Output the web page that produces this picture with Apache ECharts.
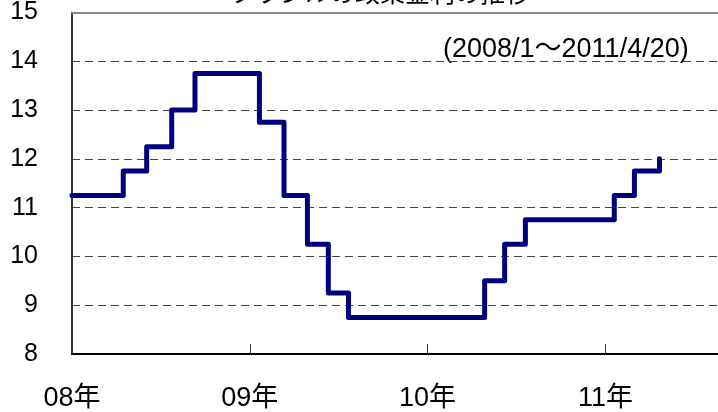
<!DOCTYPE html>
<html>
<head>
<meta charset="utf-8">
<script src="https://cdn.jsdelivr.net/npm/echarts@6/dist/echarts.min.js"></script>
<style>
  html, body { margin: 0; padding: 0; background: #fff; }
  #chart { width: 718px; height: 412px; }
</style>
</head>
<body>
<div id="chart"></div>
<script>
// months since 2008/1 where the rate changes, and the new rate (%)
var months = [0, 3.46, 5.04, 6.73, 8.3, 12.65, 14.31, 15.89, 17.3, 18.66, 27.85, 29.2, 30.6, 36.6, 37.96, 39.65]
var rates = [11.25, 11.75, 12.25, 13.0, 13.75, 12.75, 11.25, 10.25, 9.25, 8.75, 9.5, 10.25, 10.75, 11.25, 11.75, 12.0]
var yearTicks = [0, 12, 24, 36]
var yearLabels = ['08年', '09年', '10年', '11年']
var title = 'ブラジルの政策金利の推移'
var period = '(2008/1～2011/4/20)'

var font = 'Liberation Sans, Noto Sans CJK JP, sans-serif'

var points = []
for (var i = 0; i < months.length; i++) {
  points.push([months[i], rates[i]])
}

var option = {
  animation: false,
  backgroundColor: '#fff',
  grid: {
    left: 72,
    top: 10,
    right: 0,
    bottom: 58
  },
  graphic: [
    {
      type: 'text',
      left: 230,
      top: -17,
      style: {
        text: title,
        fontSize: 25,
        fontFamily: font,
        fill: '#000'
      }
    },
    {
      type: 'text',
      left: 443,
      top: 36,
      style: {
        text: period,
        fontSize: 27,
        fontFamily: font,
        fill: '#000'
      }
    }
  ],
  xAxis: [
    {
      type: 'value',
      min: 0,
      max: 43.6,
      axisLine: { lineStyle: { color: '#000', width: 2 } },
      axisTick: {
        show: true,
        inside: true,
        length: 10,
        customValues: yearTicks.slice(1),
        lineStyle: { color: '#333', width: 1 }
      },
      splitLine: { show: false },
      axisLabel: {
        margin: 31,
        fontSize: 27,
        fontFamily: font,
        color: '#000',
        customValues: yearTicks,
        formatter: function (v) {
          return yearLabels[yearTicks.indexOf(v)] || ''
        }
      }
    },
    {
      type: 'value',
      position: 'top',
      min: 0,
      max: 43.6,
      axisLine: { show: true, lineStyle: { color: '#888', width: 2 } },
      axisTick: { show: false },
      axisLabel: { show: false },
      splitLine: { show: false }
    }
  ],
  yAxis: {
    type: 'value',
    min: 8,
    max: 15,
    interval: 1,
    axisLine: { show: true, lineStyle: { color: '#333', width: 2 } },
    axisTick: { show: false },
    axisLabel: {
      margin: 34,
      fontSize: 25,
      fontFamily: font,
      color: '#000'
    },
    splitLine: {
      show: true,
      lineStyle: { color: '#444', width: 1, type: [8, 5] }
    }
  },
  series: [
    {
      type: 'line',
      step: 'end',
      data: points,
      showSymbol: false,
      lineStyle: { color: '#000080', width: 5, cap: 'round', join: 'round' },
      z: 5
    }
  ]
}

var chart = echarts.init(document.getElementById('chart'))
chart.setOption(option)
</script>
</body>
</html>
